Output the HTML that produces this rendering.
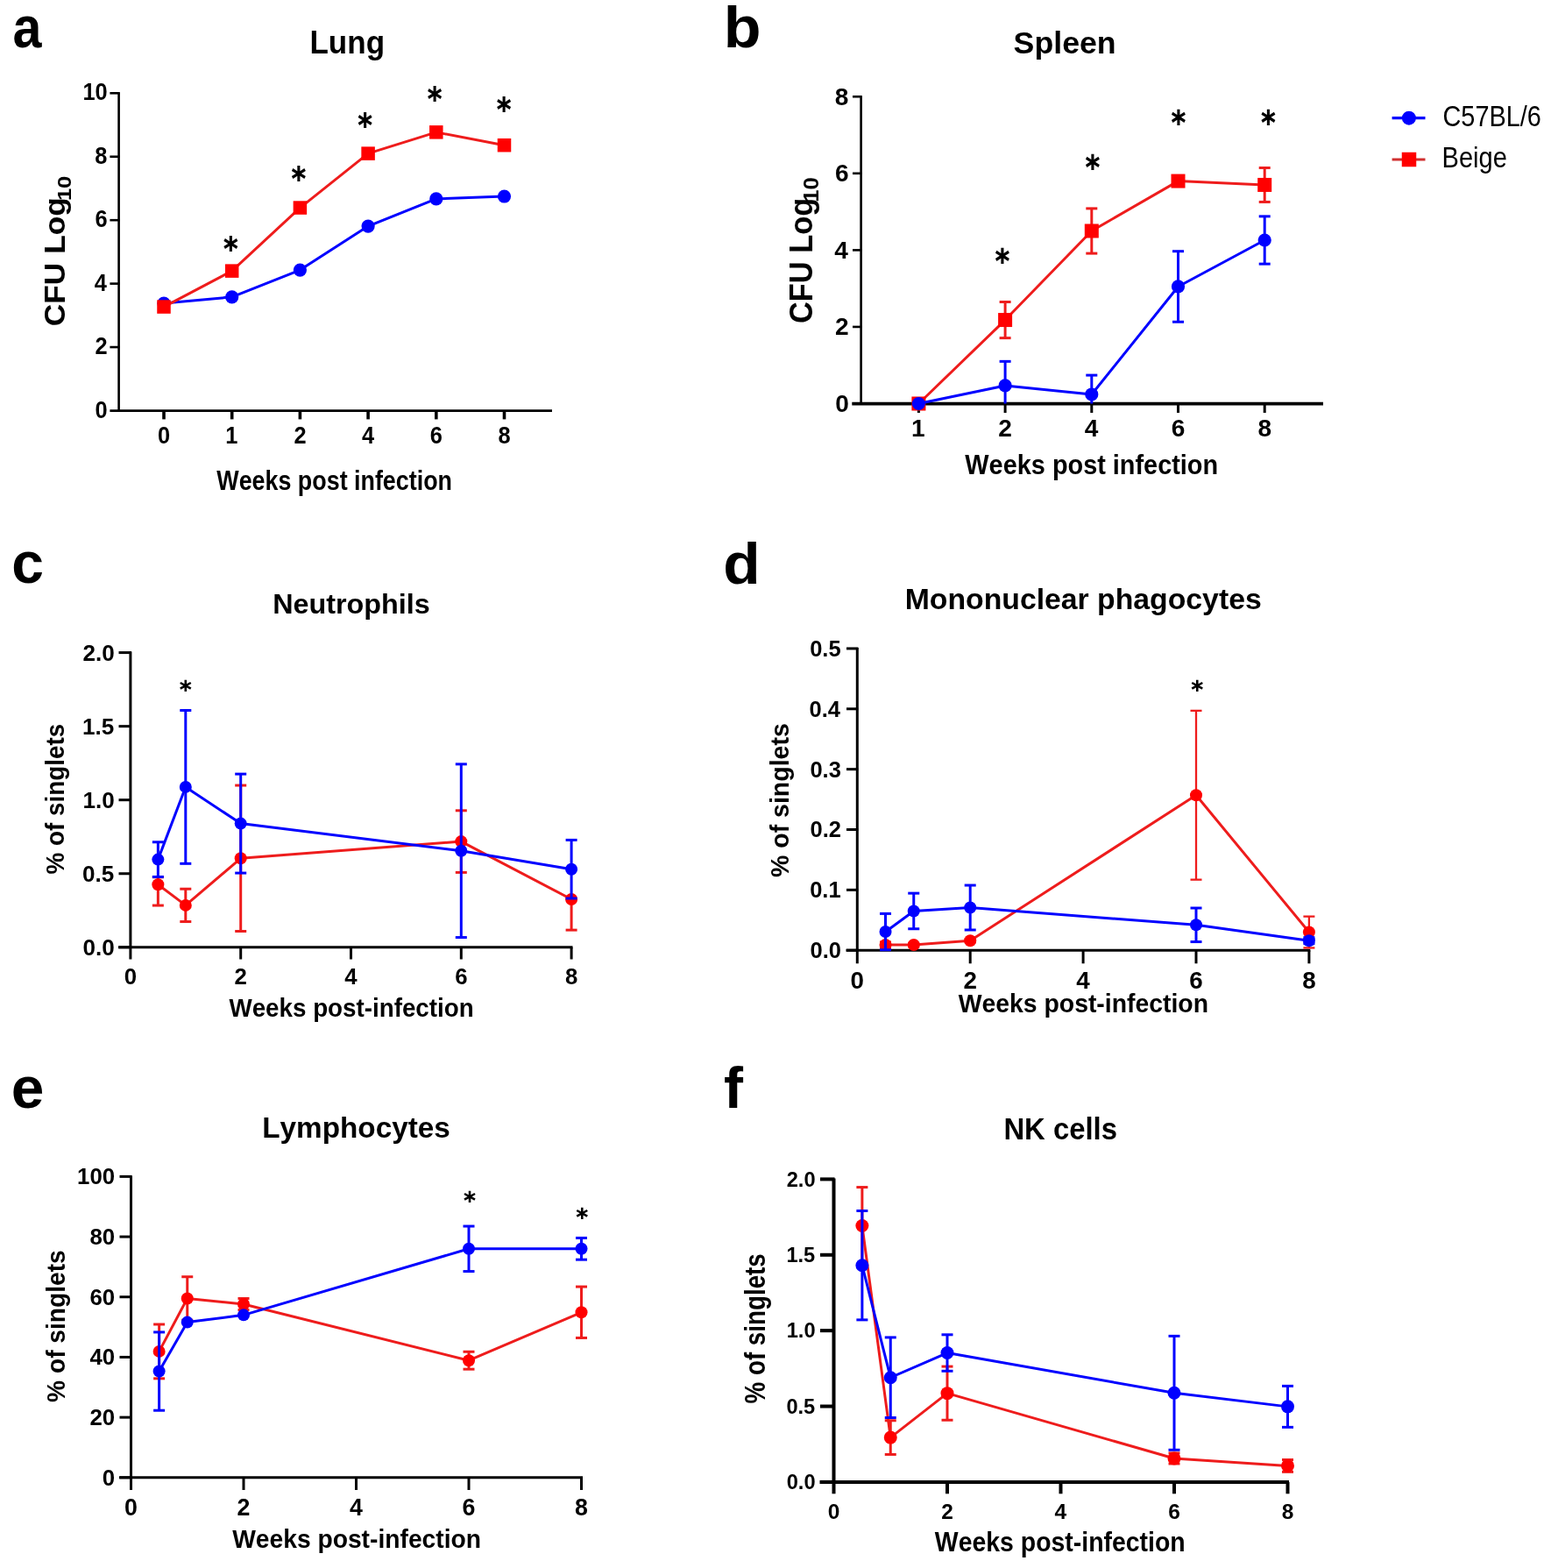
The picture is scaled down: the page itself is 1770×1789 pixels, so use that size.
<!DOCTYPE html>
<html><head><meta charset="utf-8"><title>Figure</title>
<style>
html,body{margin:0;padding:0;background:#fff;}
svg{display:block;}
text{font-kerning:none;}
</style></head><body>
<svg width="1770" height="1789" viewBox="0 0 1770 1789">
<rect width="1770" height="1789" fill="#fff"/>
<text transform="translate(14.56,53.8) scale(0.8979,1.0000)" font-family='"Liberation Sans", sans-serif' font-weight="bold" font-size="66" fill="#000">a</text>
<text transform="translate(825.68,54.4) scale(1.0614,1.0000)" font-family='"Liberation Sans", sans-serif' font-weight="bold" font-size="66" fill="#000">b</text>
<text transform="translate(13.22,665.2) scale(1.0000,1.0000)" font-family='"Liberation Sans", sans-serif' font-weight="bold" font-size="66" fill="#000">c</text>
<text transform="translate(825.25,665.6) scale(1.0524,1.0000)" font-family='"Liberation Sans", sans-serif' font-weight="bold" font-size="66" fill="#000">d</text>
<text transform="translate(12.75,1264.2) scale(1.0260,1.0000)" font-family='"Liberation Sans", sans-serif' font-weight="bold" font-size="66" fill="#000">e</text>
<text transform="translate(825.97,1264) scale(1.0000,1.0000)" font-family='"Liberation Sans", sans-serif' font-weight="bold" font-size="66" fill="#000">f</text>
<line x1="135.6" y1="105.2" x2="135.6" y2="469.7" stroke="#000" stroke-width="2.6" stroke-linecap="butt"/>
<line x1="125.4" y1="468.6" x2="630" y2="468.6" stroke="#000" stroke-width="2.8" stroke-linecap="butt"/>
<line x1="125.4" y1="396.06" x2="136.5" y2="396.06" stroke="#000" stroke-width="2.6" stroke-linecap="butt"/>
<line x1="125.4" y1="323.62" x2="136.5" y2="323.62" stroke="#000" stroke-width="2.6" stroke-linecap="butt"/>
<line x1="125.4" y1="251.18" x2="136.5" y2="251.18" stroke="#000" stroke-width="2.6" stroke-linecap="butt"/>
<line x1="125.4" y1="178.74" x2="136.5" y2="178.74" stroke="#000" stroke-width="2.6" stroke-linecap="butt"/>
<line x1="125.4" y1="106.3" x2="136.5" y2="106.3" stroke="#000" stroke-width="2.6" stroke-linecap="butt"/>
<line x1="187" y1="468.6" x2="187" y2="478.4" stroke="#000" stroke-width="3.6" stroke-linecap="butt"/>
<line x1="264.7" y1="468.6" x2="264.7" y2="478.4" stroke="#000" stroke-width="3.6" stroke-linecap="butt"/>
<line x1="342.4" y1="468.6" x2="342.4" y2="478.4" stroke="#000" stroke-width="3.6" stroke-linecap="butt"/>
<line x1="420.1" y1="468.6" x2="420.1" y2="478.4" stroke="#000" stroke-width="3.6" stroke-linecap="butt"/>
<line x1="497.8" y1="468.6" x2="497.8" y2="478.4" stroke="#000" stroke-width="3.6" stroke-linecap="butt"/>
<line x1="575.5" y1="468.6" x2="575.5" y2="478.4" stroke="#000" stroke-width="3.6" stroke-linecap="butt"/>
<text transform="translate(108.6,476.65) scale(0.9200,1)" font-family='"Liberation Sans", sans-serif' font-weight="bold" font-size="27.64">0</text>
<text transform="translate(108.58,404.21) scale(0.9200,1)" font-family='"Liberation Sans", sans-serif' font-weight="bold" font-size="27.64">2</text>
<text transform="translate(107.69,331.63) scale(0.9200,1)" font-family='"Liberation Sans", sans-serif' font-weight="bold" font-size="27.64">4</text>
<text transform="translate(108.48,259.33) scale(0.9200,1)" font-family='"Liberation Sans", sans-serif' font-weight="bold" font-size="27.64">6</text>
<text transform="translate(108.34,186.89) scale(0.9200,1)" font-family='"Liberation Sans", sans-serif' font-weight="bold" font-size="27.64">8</text>
<text transform="translate(94.46,114.45) scale(0.9200,1)" font-family='"Liberation Sans", sans-serif' font-weight="bold" font-size="27.64">10</text>
<text transform="translate(179.95,506) scale(0.9200,1)" font-family='"Liberation Sans", sans-serif' font-weight="bold" font-size="27.64" fill="#000">0</text>
<text transform="translate(257.18,505.72) scale(0.9200,1)" font-family='"Liberation Sans", sans-serif' font-weight="bold" font-size="27.64" fill="#000">1</text>
<text transform="translate(335.4,506) scale(0.9200,1)" font-family='"Liberation Sans", sans-serif' font-weight="bold" font-size="27.64" fill="#000">2</text>
<text transform="translate(412.9,505.72) scale(0.9200,1)" font-family='"Liberation Sans", sans-serif' font-weight="bold" font-size="27.64" fill="#000">4</text>
<text transform="translate(490.72,506) scale(0.9200,1)" font-family='"Liberation Sans", sans-serif' font-weight="bold" font-size="27.64" fill="#000">6</text>
<text transform="translate(568.42,506) scale(0.9200,1)" font-family='"Liberation Sans", sans-serif' font-weight="bold" font-size="27.64" fill="#000">8</text>
<text transform="translate(353.46,60.8) scale(0.9640,1.0000)" font-family='"Liberation Sans", sans-serif' font-weight="bold" font-size="36.34" fill="#000">Lung</text>
<text transform="translate(247.27,558.9) scale(0.8366,1.0000)" font-family='"Liberation Sans", sans-serif' font-weight="bold" font-size="32.12" fill="#000">Weeks post infection</text>
<text transform="translate(74.4,372.15) rotate(-90) scale(1.0576,1)" font-family='"Liberation Sans", sans-serif' font-weight="bold" font-size="33.37">CFU Log</text>
<text transform="translate(81,229.11) rotate(-90) scale(1.1357,1)" font-family='"Liberation Sans", sans-serif' font-weight="bold" font-size="22.53">10</text>
<polyline points="187,346.08 264.7,338.83 342.4,308.05 420.1,258.06 497.8,226.91 575.5,224.02" fill="none" stroke="#0000ff" stroke-width="3" stroke-linejoin="round"/>
<circle cx="187" cy="346.08" r="7.6" fill="#0000ff"/>
<circle cx="264.7" cy="338.83" r="7.6" fill="#0000ff"/>
<circle cx="342.4" cy="308.05" r="7.6" fill="#0000ff"/>
<circle cx="420.1" cy="258.06" r="7.6" fill="#0000ff"/>
<circle cx="497.8" cy="226.91" r="7.6" fill="#0000ff"/>
<circle cx="575.5" cy="224.02" r="7.6" fill="#0000ff"/>
<polyline points="187,350.06 264.7,309.13 342.4,237.05 420.1,175.12 497.8,150.85 575.5,165.7" fill="none" stroke="#ee1c1c" stroke-width="3" stroke-linejoin="round"/>
<rect x="179.25" y="342.31" width="15.5" height="15.5" fill="#ff0000"/>
<rect x="256.95" y="301.38" width="15.5" height="15.5" fill="#ff0000"/>
<rect x="334.65" y="229.3" width="15.5" height="15.5" fill="#ff0000"/>
<rect x="412.35" y="167.37" width="15.5" height="15.5" fill="#ff0000"/>
<rect x="490.05" y="143.1" width="15.5" height="15.5" fill="#ff0000"/>
<rect x="567.75" y="157.95" width="15.5" height="15.5" fill="#ff0000"/>
<text transform="translate(252.04,287.4) scale(0.9272,1)" font-family='"DejaVu Sans", sans-serif' font-weight="bold" font-size="28.73">∗</text>
<text transform="translate(329.44,207.1) scale(0.9272,1)" font-family='"DejaVu Sans", sans-serif' font-weight="bold" font-size="28.73">∗</text>
<text transform="translate(405.34,146.4) scale(0.9272,1)" font-family='"DejaVu Sans", sans-serif' font-weight="bold" font-size="28.73">∗</text>
<text transform="translate(484.84,115.7) scale(0.9272,1)" font-family='"DejaVu Sans", sans-serif' font-weight="bold" font-size="28.73">∗</text>
<text transform="translate(563.64,128.3) scale(0.9272,1)" font-family='"DejaVu Sans", sans-serif' font-weight="bold" font-size="28.73">∗</text>
<line x1="982.6" y1="109.3" x2="982.6" y2="461.5" stroke="#000" stroke-width="2.6" stroke-linecap="butt"/>
<line x1="972.3" y1="460.6" x2="1510" y2="460.6" stroke="#000" stroke-width="3.6" stroke-linecap="butt"/>
<line x1="973" y1="372.94" x2="983.5" y2="372.94" stroke="#000" stroke-width="2.6" stroke-linecap="butt"/>
<line x1="973" y1="285.38" x2="983.5" y2="285.38" stroke="#000" stroke-width="2.6" stroke-linecap="butt"/>
<line x1="973" y1="197.82" x2="983.5" y2="197.82" stroke="#000" stroke-width="2.6" stroke-linecap="butt"/>
<line x1="973" y1="110.26" x2="983.5" y2="110.26" stroke="#000" stroke-width="2.6" stroke-linecap="butt"/>
<line x1="1048.4" y1="460.6" x2="1048.4" y2="471" stroke="#000" stroke-width="3" stroke-linecap="butt"/>
<line x1="1147.1" y1="460.6" x2="1147.1" y2="471" stroke="#000" stroke-width="3" stroke-linecap="butt"/>
<line x1="1245.8" y1="460.6" x2="1245.8" y2="471" stroke="#000" stroke-width="3" stroke-linecap="butt"/>
<line x1="1344.5" y1="460.6" x2="1344.5" y2="471" stroke="#000" stroke-width="3" stroke-linecap="butt"/>
<line x1="1443.2" y1="460.6" x2="1443.2" y2="471" stroke="#000" stroke-width="3" stroke-linecap="butt"/>
<text transform="translate(953.14,469.9) scale(1.0000,1)" font-family='"Liberation Sans", sans-serif' font-weight="bold" font-size="28.07">0</text>
<text transform="translate(953.11,382.34) scale(1.0000,1)" font-family='"Liberation Sans", sans-serif' font-weight="bold" font-size="28.07">2</text>
<text transform="translate(952.14,294.64) scale(1.0000,1)" font-family='"Liberation Sans", sans-serif' font-weight="bold" font-size="28.07">4</text>
<text transform="translate(953,207.22) scale(1.0000,1)" font-family='"Liberation Sans", sans-serif' font-weight="bold" font-size="28.07">6</text>
<text transform="translate(952.85,119.66) scale(1.0000,1)" font-family='"Liberation Sans", sans-serif' font-weight="bold" font-size="28.07">8</text>
<text transform="translate(1040.1,498.01) scale(1.0000,1)" font-family='"Liberation Sans", sans-serif' font-weight="bold" font-size="28.07" fill="#000">1</text>
<text transform="translate(1139.37,498.3) scale(1.0000,1)" font-family='"Liberation Sans", sans-serif' font-weight="bold" font-size="28.07" fill="#000">2</text>
<text transform="translate(1237.86,498.01) scale(1.0000,1)" font-family='"Liberation Sans", sans-serif' font-weight="bold" font-size="28.07" fill="#000">4</text>
<text transform="translate(1336.69,498.3) scale(1.0000,1)" font-family='"Liberation Sans", sans-serif' font-weight="bold" font-size="28.07" fill="#000">6</text>
<text transform="translate(1435.38,498.3) scale(1.0000,1)" font-family='"Liberation Sans", sans-serif' font-weight="bold" font-size="28.07" fill="#000">8</text>
<text transform="translate(1156.57,60.7) scale(1.0224,1.0000)" font-family='"Liberation Sans", sans-serif' font-weight="bold" font-size="34.94" fill="#000">Spleen</text>
<text transform="translate(1101.37,540.9) scale(0.9078,1.0000)" font-family='"Liberation Sans", sans-serif' font-weight="bold" font-size="31.83" fill="#000">Weeks post infection</text>
<text transform="translate(926.5,369.01) rotate(-90) scale(0.9421,1)" font-family='"Liberation Sans", sans-serif' font-weight="bold" font-size="36.52">CFU Log</text>
<text transform="translate(934.3,230.81) rotate(-90) scale(1.0355,1)" font-family='"Liberation Sans", sans-serif' font-weight="bold" font-size="24.71">10</text>
<line x1="1147.1" y1="344.48" x2="1147.1" y2="365.06" stroke="#ee1c1c" stroke-width="3" stroke-linecap="butt"/>
<line x1="1140.6" y1="344.48" x2="1153.6" y2="344.48" stroke="#ee1c1c" stroke-width="3" stroke-linecap="butt"/>
<line x1="1147.1" y1="365.06" x2="1147.1" y2="385.64" stroke="#ee1c1c" stroke-width="3" stroke-linecap="butt"/>
<line x1="1140.6" y1="385.64" x2="1153.6" y2="385.64" stroke="#ee1c1c" stroke-width="3" stroke-linecap="butt"/>
<line x1="1245.8" y1="237.88" x2="1245.8" y2="263.49" stroke="#ee1c1c" stroke-width="3" stroke-linecap="butt"/>
<line x1="1239.3" y1="237.88" x2="1252.3" y2="237.88" stroke="#ee1c1c" stroke-width="3" stroke-linecap="butt"/>
<line x1="1245.8" y1="263.49" x2="1245.8" y2="289.1" stroke="#ee1c1c" stroke-width="3" stroke-linecap="butt"/>
<line x1="1239.3" y1="289.1" x2="1252.3" y2="289.1" stroke="#ee1c1c" stroke-width="3" stroke-linecap="butt"/>
<line x1="1344.5" y1="202.2" x2="1344.5" y2="206.58" stroke="#ee1c1c" stroke-width="3" stroke-linecap="butt"/>
<line x1="1338" y1="202.2" x2="1351" y2="202.2" stroke="#ee1c1c" stroke-width="3" stroke-linecap="butt"/>
<line x1="1344.5" y1="206.58" x2="1344.5" y2="210.95" stroke="#ee1c1c" stroke-width="3" stroke-linecap="butt"/>
<line x1="1338" y1="210.95" x2="1351" y2="210.95" stroke="#ee1c1c" stroke-width="3" stroke-linecap="butt"/>
<line x1="1443.2" y1="191.47" x2="1443.2" y2="210.95" stroke="#ee1c1c" stroke-width="3" stroke-linecap="butt"/>
<line x1="1436.7" y1="191.47" x2="1449.7" y2="191.47" stroke="#ee1c1c" stroke-width="3" stroke-linecap="butt"/>
<line x1="1443.2" y1="210.95" x2="1443.2" y2="230.44" stroke="#ee1c1c" stroke-width="3" stroke-linecap="butt"/>
<line x1="1436.7" y1="230.44" x2="1449.7" y2="230.44" stroke="#ee1c1c" stroke-width="3" stroke-linecap="butt"/>
<polyline points="1048.4,460.5 1147.1,365.06 1245.8,263.49 1344.5,206.58 1443.2,210.95" fill="none" stroke="#ee1c1c" stroke-width="3" stroke-linejoin="round"/>
<rect x="1040.4" y="452.5" width="16" height="16" fill="#ff0000"/>
<rect x="1139.1" y="357.06" width="16" height="16" fill="#ff0000"/>
<rect x="1237.8" y="255.49" width="16" height="16" fill="#ff0000"/>
<rect x="1336.5" y="198.58" width="16" height="16" fill="#ff0000"/>
<rect x="1435.2" y="202.95" width="16" height="16" fill="#ff0000"/>
<line x1="1147.1" y1="412.34" x2="1147.1" y2="439.92" stroke="#0000ff" stroke-width="3" stroke-linecap="butt"/>
<line x1="1140.6" y1="412.34" x2="1153.6" y2="412.34" stroke="#0000ff" stroke-width="3" stroke-linecap="butt"/>
<line x1="1147.1" y1="439.92" x2="1147.1" y2="460.5" stroke="#0000ff" stroke-width="3" stroke-linecap="butt"/>
<line x1="1245.8" y1="428.1" x2="1245.8" y2="449.99" stroke="#0000ff" stroke-width="3" stroke-linecap="butt"/>
<line x1="1239.3" y1="428.1" x2="1252.3" y2="428.1" stroke="#0000ff" stroke-width="3" stroke-linecap="butt"/>
<line x1="1245.8" y1="449.99" x2="1245.8" y2="460.5" stroke="#0000ff" stroke-width="3" stroke-linecap="butt"/>
<line x1="1344.5" y1="286.69" x2="1344.5" y2="326.97" stroke="#0000ff" stroke-width="3" stroke-linecap="butt"/>
<line x1="1338" y1="286.69" x2="1351" y2="286.69" stroke="#0000ff" stroke-width="3" stroke-linecap="butt"/>
<line x1="1344.5" y1="326.97" x2="1344.5" y2="367.25" stroke="#0000ff" stroke-width="3" stroke-linecap="butt"/>
<line x1="1338" y1="367.25" x2="1351" y2="367.25" stroke="#0000ff" stroke-width="3" stroke-linecap="butt"/>
<line x1="1443.2" y1="246.85" x2="1443.2" y2="274" stroke="#0000ff" stroke-width="3" stroke-linecap="butt"/>
<line x1="1436.7" y1="246.85" x2="1449.7" y2="246.85" stroke="#0000ff" stroke-width="3" stroke-linecap="butt"/>
<line x1="1443.2" y1="274" x2="1443.2" y2="301.14" stroke="#0000ff" stroke-width="3" stroke-linecap="butt"/>
<line x1="1436.7" y1="301.14" x2="1449.7" y2="301.14" stroke="#0000ff" stroke-width="3" stroke-linecap="butt"/>
<polyline points="1048.4,460.5 1147.1,439.92 1245.8,449.99 1344.5,326.97 1443.2,274" fill="none" stroke="#0000ff" stroke-width="3" stroke-linejoin="round"/>
<circle cx="1048.4" cy="460.5" r="7.6" fill="#0000ff"/>
<circle cx="1147.1" cy="439.92" r="7.6" fill="#0000ff"/>
<circle cx="1245.8" cy="449.99" r="7.6" fill="#0000ff"/>
<circle cx="1344.5" cy="326.97" r="7.6" fill="#0000ff"/>
<circle cx="1443.2" cy="274" r="7.6" fill="#0000ff"/>
<text transform="translate(1132.74,301.45) scale(0.9120,1)" font-family='"DejaVu Sans", sans-serif' font-weight="bold" font-size="29.21">∗</text>
<text transform="translate(1235.84,193.85) scale(0.9120,1)" font-family='"DejaVu Sans", sans-serif' font-weight="bold" font-size="29.21">∗</text>
<text transform="translate(1333.84,143.45) scale(0.9120,1)" font-family='"DejaVu Sans", sans-serif' font-weight="bold" font-size="29.21">∗</text>
<text transform="translate(1436.24,143.45) scale(0.9120,1)" font-family='"DejaVu Sans", sans-serif' font-weight="bold" font-size="29.21">∗</text>
<line x1="1588.6" y1="134.7" x2="1626.5" y2="134.7" stroke="#0000ff" stroke-width="3.2" stroke-linecap="butt"/>
<circle cx="1607.9" cy="134.7" r="8" fill="#0000ff"/>
<line x1="1588.6" y1="182" x2="1626.5" y2="182" stroke="#d03030" stroke-width="3.2" stroke-linecap="butt"/>
<rect x="1599.75" y="173.75" width="16.5" height="16.5" fill="#ff0000"/>
<text transform="translate(1646.53,143.5) scale(0.8688,1.0000)" font-family='"Liberation Sans", sans-serif' font-weight="normal" font-size="33.23" fill="#000">C57BL/6</text>
<text transform="translate(1645.62,191) scale(0.8612,1.0000)" font-family='"Liberation Sans", sans-serif' font-weight="normal" font-size="33.72" fill="#000">Beige</text>
<line x1="148.9" y1="743.6" x2="148.9" y2="1081.8" stroke="#000" stroke-width="3" stroke-linecap="butt"/>
<line x1="135" y1="1080.8" x2="653.5" y2="1080.8" stroke="#000" stroke-width="3" stroke-linecap="butt"/>
<line x1="135.5" y1="1080.8" x2="149.9" y2="1080.8" stroke="#000" stroke-width="3" stroke-linecap="butt"/>
<line x1="135.5" y1="996.75" x2="149.9" y2="996.75" stroke="#000" stroke-width="3" stroke-linecap="butt"/>
<line x1="135.5" y1="912.7" x2="149.9" y2="912.7" stroke="#000" stroke-width="3" stroke-linecap="butt"/>
<line x1="135.5" y1="828.65" x2="149.9" y2="828.65" stroke="#000" stroke-width="3" stroke-linecap="butt"/>
<line x1="135.5" y1="744.6" x2="149.9" y2="744.6" stroke="#000" stroke-width="3" stroke-linecap="butt"/>
<line x1="148.9" y1="1080.8" x2="148.9" y2="1094.5" stroke="#000" stroke-width="3" stroke-linecap="butt"/>
<line x1="274.7" y1="1080.8" x2="274.7" y2="1094.5" stroke="#000" stroke-width="3" stroke-linecap="butt"/>
<line x1="400.5" y1="1080.8" x2="400.5" y2="1094.5" stroke="#000" stroke-width="3" stroke-linecap="butt"/>
<line x1="526.3" y1="1080.8" x2="526.3" y2="1094.5" stroke="#000" stroke-width="3" stroke-linecap="butt"/>
<line x1="652.1" y1="1080.8" x2="652.1" y2="1094.5" stroke="#000" stroke-width="3" stroke-linecap="butt"/>
<text transform="translate(94.43,1089.9) scale(1.0000,1)" font-family='"Liberation Sans", sans-serif' font-weight="bold" font-size="26.07">0.0</text>
<text transform="translate(94.09,1005.85) scale(1.0000,1)" font-family='"Liberation Sans", sans-serif' font-weight="bold" font-size="26.07">0.5</text>
<text transform="translate(94.43,921.8) scale(1.0000,1)" font-family='"Liberation Sans", sans-serif' font-weight="bold" font-size="26.07">1.0</text>
<text transform="translate(94.09,837.62) scale(1.0000,1)" font-family='"Liberation Sans", sans-serif' font-weight="bold" font-size="26.07">1.5</text>
<text transform="translate(94.43,753.7) scale(1.0000,1)" font-family='"Liberation Sans", sans-serif' font-weight="bold" font-size="26.07">2.0</text>
<text transform="translate(141.75,1122.8) scale(1.0000,1)" font-family='"Liberation Sans", sans-serif' font-weight="bold" font-size="25.78" fill="#000">0</text>
<text transform="translate(267.6,1122.8) scale(1.0000,1)" font-family='"Liberation Sans", sans-serif' font-weight="bold" font-size="25.78" fill="#000">2</text>
<text transform="translate(393.21,1122.54) scale(1.0000,1)" font-family='"Liberation Sans", sans-serif' font-weight="bold" font-size="25.78" fill="#000">4</text>
<text transform="translate(519.13,1122.8) scale(1.0000,1)" font-family='"Liberation Sans", sans-serif' font-weight="bold" font-size="25.78" fill="#000">6</text>
<text transform="translate(644.92,1122.8) scale(1.0000,1)" font-family='"Liberation Sans", sans-serif' font-weight="bold" font-size="25.78" fill="#000">8</text>
<text transform="translate(311.14,700) scale(1.0260,1.0000)" font-family='"Liberation Sans", sans-serif' font-weight="bold" font-size="31.54" fill="#000">Neutrophils</text>
<text transform="translate(261.47,1159.7) scale(0.9185,1.0000)" font-family='"Liberation Sans", sans-serif' font-weight="bold" font-size="30.23" fill="#000">Weeks post-infection</text>
<text transform="translate(73,997.49) rotate(-90) scale(0.9478,1)" font-family='"Liberation Sans", sans-serif' font-weight="bold" font-size="29.4">% of singlets</text>
<line x1="180.35" y1="1000.78" x2="180.35" y2="1009.19" stroke="#ee1c1c" stroke-width="3" stroke-linecap="butt"/>
<line x1="173.85" y1="1000.78" x2="186.85" y2="1000.78" stroke="#ee1c1c" stroke-width="3" stroke-linecap="butt"/>
<line x1="180.35" y1="1009.19" x2="180.35" y2="1033.06" stroke="#ee1c1c" stroke-width="3" stroke-linecap="butt"/>
<line x1="173.85" y1="1033.06" x2="186.85" y2="1033.06" stroke="#ee1c1c" stroke-width="3" stroke-linecap="butt"/>
<line x1="211.8" y1="1014.23" x2="211.8" y2="1032.89" stroke="#ee1c1c" stroke-width="3" stroke-linecap="butt"/>
<line x1="205.3" y1="1014.23" x2="218.3" y2="1014.23" stroke="#ee1c1c" stroke-width="3" stroke-linecap="butt"/>
<line x1="211.8" y1="1032.89" x2="211.8" y2="1051.55" stroke="#ee1c1c" stroke-width="3" stroke-linecap="butt"/>
<line x1="205.3" y1="1051.55" x2="218.3" y2="1051.55" stroke="#ee1c1c" stroke-width="3" stroke-linecap="butt"/>
<line x1="274.7" y1="896.06" x2="274.7" y2="979.27" stroke="#ee1c1c" stroke-width="3" stroke-linecap="butt"/>
<line x1="268.2" y1="896.06" x2="281.2" y2="896.06" stroke="#ee1c1c" stroke-width="3" stroke-linecap="butt"/>
<line x1="274.7" y1="979.27" x2="274.7" y2="1062.48" stroke="#ee1c1c" stroke-width="3" stroke-linecap="butt"/>
<line x1="268.2" y1="1062.48" x2="281.2" y2="1062.48" stroke="#ee1c1c" stroke-width="3" stroke-linecap="butt"/>
<line x1="526.3" y1="924.8" x2="526.3" y2="960.1" stroke="#ee1c1c" stroke-width="3" stroke-linecap="butt"/>
<line x1="519.8" y1="924.8" x2="532.8" y2="924.8" stroke="#ee1c1c" stroke-width="3" stroke-linecap="butt"/>
<line x1="526.3" y1="960.1" x2="526.3" y2="995.41" stroke="#ee1c1c" stroke-width="3" stroke-linecap="butt"/>
<line x1="519.8" y1="995.41" x2="532.8" y2="995.41" stroke="#ee1c1c" stroke-width="3" stroke-linecap="butt"/>
<line x1="652.1" y1="1026" x2="652.1" y2="1026" stroke="#ee1c1c" stroke-width="3" stroke-linecap="butt"/>
<line x1="645.6" y1="1026" x2="658.6" y2="1026" stroke="#ee1c1c" stroke-width="3" stroke-linecap="butt"/>
<line x1="652.1" y1="1026" x2="652.1" y2="1061.13" stroke="#ee1c1c" stroke-width="3" stroke-linecap="butt"/>
<line x1="645.6" y1="1061.13" x2="658.6" y2="1061.13" stroke="#ee1c1c" stroke-width="3" stroke-linecap="butt"/>
<polyline points="180.35,1009.19 211.8,1032.89 274.7,979.27 526.3,960.1 652.1,1026" fill="none" stroke="#ee1c1c" stroke-width="3" stroke-linejoin="round"/>
<circle cx="180.35" cy="1009.19" r="7" fill="#ff0000"/>
<circle cx="211.8" cy="1032.89" r="7" fill="#ff0000"/>
<circle cx="274.7" cy="979.27" r="7" fill="#ff0000"/>
<circle cx="526.3" cy="960.1" r="7" fill="#ff0000"/>
<circle cx="652.1" cy="1026" r="7" fill="#ff0000"/>
<line x1="180.35" y1="960.78" x2="180.35" y2="980.61" stroke="#0000ff" stroke-width="3" stroke-linecap="butt"/>
<line x1="173.85" y1="960.78" x2="186.85" y2="960.78" stroke="#0000ff" stroke-width="3" stroke-linecap="butt"/>
<line x1="180.35" y1="980.61" x2="180.35" y2="1000.45" stroke="#0000ff" stroke-width="3" stroke-linecap="butt"/>
<line x1="173.85" y1="1000.45" x2="186.85" y2="1000.45" stroke="#0000ff" stroke-width="3" stroke-linecap="butt"/>
<line x1="211.8" y1="810.5" x2="211.8" y2="897.91" stroke="#0000ff" stroke-width="3" stroke-linecap="butt"/>
<line x1="205.3" y1="810.5" x2="218.3" y2="810.5" stroke="#0000ff" stroke-width="3" stroke-linecap="butt"/>
<line x1="211.8" y1="897.91" x2="211.8" y2="985.32" stroke="#0000ff" stroke-width="3" stroke-linecap="butt"/>
<line x1="205.3" y1="985.32" x2="218.3" y2="985.32" stroke="#0000ff" stroke-width="3" stroke-linecap="butt"/>
<line x1="274.7" y1="883.11" x2="274.7" y2="939.6" stroke="#0000ff" stroke-width="3" stroke-linecap="butt"/>
<line x1="268.2" y1="883.11" x2="281.2" y2="883.11" stroke="#0000ff" stroke-width="3" stroke-linecap="butt"/>
<line x1="274.7" y1="939.6" x2="274.7" y2="996.08" stroke="#0000ff" stroke-width="3" stroke-linecap="butt"/>
<line x1="268.2" y1="996.08" x2="281.2" y2="996.08" stroke="#0000ff" stroke-width="3" stroke-linecap="butt"/>
<line x1="526.3" y1="871.85" x2="526.3" y2="970.69" stroke="#0000ff" stroke-width="3" stroke-linecap="butt"/>
<line x1="519.8" y1="871.85" x2="532.8" y2="871.85" stroke="#0000ff" stroke-width="3" stroke-linecap="butt"/>
<line x1="526.3" y1="970.69" x2="526.3" y2="1069.54" stroke="#0000ff" stroke-width="3" stroke-linecap="butt"/>
<line x1="519.8" y1="1069.54" x2="532.8" y2="1069.54" stroke="#0000ff" stroke-width="3" stroke-linecap="butt"/>
<line x1="652.1" y1="958.42" x2="652.1" y2="991.71" stroke="#0000ff" stroke-width="3" stroke-linecap="butt"/>
<line x1="645.6" y1="958.42" x2="658.6" y2="958.42" stroke="#0000ff" stroke-width="3" stroke-linecap="butt"/>
<line x1="652.1" y1="991.71" x2="652.1" y2="1024.99" stroke="#0000ff" stroke-width="3" stroke-linecap="butt"/>
<line x1="645.6" y1="1024.99" x2="658.6" y2="1024.99" stroke="#0000ff" stroke-width="3" stroke-linecap="butt"/>
<polyline points="180.35,980.61 211.8,897.91 274.7,939.6 526.3,970.69 652.1,991.71" fill="none" stroke="#0000ff" stroke-width="3" stroke-linejoin="round"/>
<circle cx="180.35" cy="980.61" r="7" fill="#0000ff"/>
<circle cx="211.8" cy="897.91" r="7" fill="#0000ff"/>
<circle cx="274.7" cy="939.6" r="7" fill="#0000ff"/>
<circle cx="526.3" cy="970.69" r="7" fill="#0000ff"/>
<circle cx="652.1" cy="991.71" r="7" fill="#0000ff"/>
<text transform="translate(202.42,789.15) scale(1.0431,1)" font-family='"DejaVu Sans", sans-serif' font-weight="bold" font-size="21.23">∗</text>
<line x1="978.3" y1="738.9" x2="978.3" y2="1085.2" stroke="#000" stroke-width="3" stroke-linecap="butt"/>
<line x1="965.5" y1="1084.2" x2="1495.3" y2="1084.2" stroke="#000" stroke-width="3" stroke-linecap="butt"/>
<line x1="966" y1="1084.2" x2="979.3" y2="1084.2" stroke="#000" stroke-width="3" stroke-linecap="butt"/>
<line x1="966" y1="1015.35" x2="979.3" y2="1015.35" stroke="#000" stroke-width="3" stroke-linecap="butt"/>
<line x1="966" y1="946.5" x2="979.3" y2="946.5" stroke="#000" stroke-width="3" stroke-linecap="butt"/>
<line x1="966" y1="877.65" x2="979.3" y2="877.65" stroke="#000" stroke-width="3" stroke-linecap="butt"/>
<line x1="966" y1="808.8" x2="979.3" y2="808.8" stroke="#000" stroke-width="3" stroke-linecap="butt"/>
<line x1="966" y1="739.95" x2="979.3" y2="739.95" stroke="#000" stroke-width="3" stroke-linecap="butt"/>
<line x1="978.3" y1="1084.2" x2="978.3" y2="1099.3" stroke="#000" stroke-width="3" stroke-linecap="butt"/>
<line x1="1107.2" y1="1084.2" x2="1107.2" y2="1099.3" stroke="#000" stroke-width="3" stroke-linecap="butt"/>
<line x1="1236.1" y1="1084.2" x2="1236.1" y2="1099.3" stroke="#000" stroke-width="3" stroke-linecap="butt"/>
<line x1="1365" y1="1084.2" x2="1365" y2="1099.3" stroke="#000" stroke-width="3" stroke-linecap="butt"/>
<line x1="1493.9" y1="1084.2" x2="1493.9" y2="1099.3" stroke="#000" stroke-width="3" stroke-linecap="butt"/>
<text transform="translate(924.51,1093.1) scale(1.0000,1)" font-family='"Liberation Sans", sans-serif' font-weight="bold" font-size="25.49">0.0</text>
<text transform="translate(924.17,1024.25) scale(1.0000,1)" font-family='"Liberation Sans", sans-serif' font-weight="bold" font-size="25.49">0.1</text>
<text transform="translate(924.48,955.4) scale(1.0000,1)" font-family='"Liberation Sans", sans-serif' font-weight="bold" font-size="25.49">0.2</text>
<text transform="translate(924.38,886.55) scale(1.0000,1)" font-family='"Liberation Sans", sans-serif' font-weight="bold" font-size="25.49">0.3</text>
<text transform="translate(923.6,817.7) scale(1.0000,1)" font-family='"Liberation Sans", sans-serif' font-weight="bold" font-size="25.49">0.4</text>
<text transform="translate(924.17,748.85) scale(1.0000,1)" font-family='"Liberation Sans", sans-serif' font-weight="bold" font-size="25.49">0.5</text>
<text transform="translate(970.59,1128.2) scale(1.0000,1)" font-family='"Liberation Sans", sans-serif' font-weight="bold" font-size="27.78" fill="#000">0</text>
<text transform="translate(1099.55,1128.2) scale(1.0000,1)" font-family='"Liberation Sans", sans-serif' font-weight="bold" font-size="27.78" fill="#000">2</text>
<text transform="translate(1228.24,1127.92) scale(1.0000,1)" font-family='"Liberation Sans", sans-serif' font-weight="bold" font-size="27.78" fill="#000">4</text>
<text transform="translate(1357.27,1128.2) scale(1.0000,1)" font-family='"Liberation Sans", sans-serif' font-weight="bold" font-size="27.78" fill="#000">6</text>
<text transform="translate(1486.16,1128.2) scale(1.0000,1)" font-family='"Liberation Sans", sans-serif' font-weight="bold" font-size="27.78" fill="#000">8</text>
<text transform="translate(1032.74,695.1) scale(1.0277,1.0000)" font-family='"Liberation Sans", sans-serif' font-weight="bold" font-size="32.85" fill="#000">Mononuclear phagocytes</text>
<text transform="translate(1093.77,1154.9) scale(0.9342,1.0000)" font-family='"Liberation Sans", sans-serif' font-weight="bold" font-size="30.38" fill="#000">Weeks post-infection</text>
<text transform="translate(899.6,1000.91) rotate(-90) scale(0.9512,1)" font-family='"Liberation Sans", sans-serif' font-weight="bold" font-size="29.95">% of singlets</text>
<line x1="1010.52" y1="1074.56" x2="1010.52" y2="1078" stroke="#ee1c1c" stroke-width="2.3" stroke-linecap="butt"/>
<line x1="1004.02" y1="1074.56" x2="1017.02" y2="1074.56" stroke="#ee1c1c" stroke-width="2.3" stroke-linecap="butt"/>
<line x1="1010.52" y1="1078" x2="1010.52" y2="1081.45" stroke="#ee1c1c" stroke-width="2.3" stroke-linecap="butt"/>
<line x1="1004.02" y1="1081.45" x2="1017.02" y2="1081.45" stroke="#ee1c1c" stroke-width="2.3" stroke-linecap="butt"/>
<line x1="1042.75" y1="1075.94" x2="1042.75" y2="1078" stroke="#ee1c1c" stroke-width="2.3" stroke-linecap="butt"/>
<line x1="1036.25" y1="1075.94" x2="1049.25" y2="1075.94" stroke="#ee1c1c" stroke-width="2.3" stroke-linecap="butt"/>
<line x1="1042.75" y1="1078" x2="1042.75" y2="1080.07" stroke="#ee1c1c" stroke-width="2.3" stroke-linecap="butt"/>
<line x1="1036.25" y1="1080.07" x2="1049.25" y2="1080.07" stroke="#ee1c1c" stroke-width="2.3" stroke-linecap="butt"/>
<line x1="1107.2" y1="1071.12" x2="1107.2" y2="1073.18" stroke="#ee1c1c" stroke-width="2.3" stroke-linecap="butt"/>
<line x1="1100.7" y1="1071.12" x2="1113.7" y2="1071.12" stroke="#ee1c1c" stroke-width="2.3" stroke-linecap="butt"/>
<line x1="1107.2" y1="1073.18" x2="1107.2" y2="1075.25" stroke="#ee1c1c" stroke-width="2.3" stroke-linecap="butt"/>
<line x1="1100.7" y1="1075.25" x2="1113.7" y2="1075.25" stroke="#ee1c1c" stroke-width="2.3" stroke-linecap="butt"/>
<line x1="1365" y1="810.87" x2="1365" y2="907.26" stroke="#ee1c1c" stroke-width="2.3" stroke-linecap="butt"/>
<line x1="1358.5" y1="810.87" x2="1371.5" y2="810.87" stroke="#ee1c1c" stroke-width="2.3" stroke-linecap="butt"/>
<line x1="1365" y1="907.26" x2="1365" y2="1003.65" stroke="#ee1c1c" stroke-width="2.3" stroke-linecap="butt"/>
<line x1="1358.5" y1="1003.65" x2="1371.5" y2="1003.65" stroke="#ee1c1c" stroke-width="2.3" stroke-linecap="butt"/>
<line x1="1493.9" y1="1045.64" x2="1493.9" y2="1063.55" stroke="#ee1c1c" stroke-width="2.3" stroke-linecap="butt"/>
<line x1="1487.4" y1="1045.64" x2="1500.4" y2="1045.64" stroke="#ee1c1c" stroke-width="2.3" stroke-linecap="butt"/>
<line x1="1493.9" y1="1063.55" x2="1493.9" y2="1081.45" stroke="#ee1c1c" stroke-width="2.3" stroke-linecap="butt"/>
<line x1="1487.4" y1="1081.45" x2="1500.4" y2="1081.45" stroke="#ee1c1c" stroke-width="2.3" stroke-linecap="butt"/>
<polyline points="1010.52,1078 1042.75,1078 1107.2,1073.18 1365,907.26 1493.9,1063.55" fill="none" stroke="#ee1c1c" stroke-width="3" stroke-linejoin="round"/>
<circle cx="1010.52" cy="1078" r="7" fill="#ff0000"/>
<circle cx="1042.75" cy="1078" r="7" fill="#ff0000"/>
<circle cx="1107.2" cy="1073.18" r="7" fill="#ff0000"/>
<circle cx="1365" cy="907.26" r="7" fill="#ff0000"/>
<circle cx="1493.9" cy="1063.55" r="7" fill="#ff0000"/>
<line x1="1010.52" y1="1042.41" x2="1010.52" y2="1063.06" stroke="#0000ff" stroke-width="3" stroke-linecap="butt"/>
<line x1="1004.02" y1="1042.41" x2="1017.02" y2="1042.41" stroke="#0000ff" stroke-width="3" stroke-linecap="butt"/>
<line x1="1010.52" y1="1063.06" x2="1010.52" y2="1083.72" stroke="#0000ff" stroke-width="3" stroke-linecap="butt"/>
<line x1="1004.02" y1="1083.72" x2="1017.02" y2="1083.72" stroke="#0000ff" stroke-width="3" stroke-linecap="butt"/>
<line x1="1042.75" y1="1019.14" x2="1042.75" y2="1039.45" stroke="#0000ff" stroke-width="3" stroke-linecap="butt"/>
<line x1="1036.25" y1="1019.14" x2="1049.25" y2="1019.14" stroke="#0000ff" stroke-width="3" stroke-linecap="butt"/>
<line x1="1042.75" y1="1039.45" x2="1042.75" y2="1059.76" stroke="#0000ff" stroke-width="3" stroke-linecap="butt"/>
<line x1="1036.25" y1="1059.76" x2="1049.25" y2="1059.76" stroke="#0000ff" stroke-width="3" stroke-linecap="butt"/>
<line x1="1107.2" y1="1010.05" x2="1107.2" y2="1035.52" stroke="#0000ff" stroke-width="3" stroke-linecap="butt"/>
<line x1="1100.7" y1="1010.05" x2="1113.7" y2="1010.05" stroke="#0000ff" stroke-width="3" stroke-linecap="butt"/>
<line x1="1107.2" y1="1035.52" x2="1107.2" y2="1061" stroke="#0000ff" stroke-width="3" stroke-linecap="butt"/>
<line x1="1100.7" y1="1061" x2="1113.7" y2="1061" stroke="#0000ff" stroke-width="3" stroke-linecap="butt"/>
<line x1="1365" y1="1036.01" x2="1365" y2="1055.28" stroke="#0000ff" stroke-width="3" stroke-linecap="butt"/>
<line x1="1358.5" y1="1036.01" x2="1371.5" y2="1036.01" stroke="#0000ff" stroke-width="3" stroke-linecap="butt"/>
<line x1="1365" y1="1055.28" x2="1365" y2="1074.56" stroke="#0000ff" stroke-width="3" stroke-linecap="butt"/>
<line x1="1358.5" y1="1074.56" x2="1371.5" y2="1074.56" stroke="#0000ff" stroke-width="3" stroke-linecap="butt"/>
<line x1="1493.9" y1="1069.74" x2="1493.9" y2="1073.18" stroke="#0000ff" stroke-width="3" stroke-linecap="butt"/>
<line x1="1487.4" y1="1069.74" x2="1500.4" y2="1069.74" stroke="#0000ff" stroke-width="3" stroke-linecap="butt"/>
<line x1="1493.9" y1="1073.18" x2="1493.9" y2="1076.63" stroke="#0000ff" stroke-width="3" stroke-linecap="butt"/>
<line x1="1487.4" y1="1076.63" x2="1500.4" y2="1076.63" stroke="#0000ff" stroke-width="3" stroke-linecap="butt"/>
<polyline points="1010.52,1063.06 1042.75,1039.45 1107.2,1035.52 1365,1055.28 1493.9,1073.18" fill="none" stroke="#0000ff" stroke-width="3" stroke-linejoin="round"/>
<circle cx="1010.52" cy="1063.06" r="7" fill="#0000ff"/>
<circle cx="1042.75" cy="1039.45" r="7" fill="#0000ff"/>
<circle cx="1107.2" cy="1035.52" r="7" fill="#0000ff"/>
<circle cx="1365" cy="1055.28" r="7" fill="#0000ff"/>
<circle cx="1493.9" cy="1073.18" r="7" fill="#0000ff"/>
<text transform="translate(1357.02,789.25) scale(1.0431,1)" font-family='"DejaVu Sans", sans-serif' font-weight="bold" font-size="21.23">∗</text>
<line x1="149.5" y1="1341.4" x2="149.5" y2="1686.8" stroke="#000" stroke-width="3" stroke-linecap="butt"/>
<line x1="136" y1="1685.8" x2="665" y2="1685.8" stroke="#000" stroke-width="3" stroke-linecap="butt"/>
<line x1="136.5" y1="1685.8" x2="150.5" y2="1685.8" stroke="#000" stroke-width="3" stroke-linecap="butt"/>
<line x1="136.5" y1="1617.12" x2="150.5" y2="1617.12" stroke="#000" stroke-width="3" stroke-linecap="butt"/>
<line x1="136.5" y1="1548.43" x2="150.5" y2="1548.43" stroke="#000" stroke-width="3" stroke-linecap="butt"/>
<line x1="136.5" y1="1479.75" x2="150.5" y2="1479.75" stroke="#000" stroke-width="3" stroke-linecap="butt"/>
<line x1="136.5" y1="1411.06" x2="150.5" y2="1411.06" stroke="#000" stroke-width="3" stroke-linecap="butt"/>
<line x1="136.5" y1="1342.38" x2="150.5" y2="1342.38" stroke="#000" stroke-width="3" stroke-linecap="butt"/>
<line x1="149.5" y1="1685.8" x2="149.5" y2="1700" stroke="#000" stroke-width="3" stroke-linecap="butt"/>
<line x1="278" y1="1685.8" x2="278" y2="1700" stroke="#000" stroke-width="3" stroke-linecap="butt"/>
<line x1="406.5" y1="1685.8" x2="406.5" y2="1700" stroke="#000" stroke-width="3" stroke-linecap="butt"/>
<line x1="535" y1="1685.8" x2="535" y2="1700" stroke="#000" stroke-width="3" stroke-linecap="butt"/>
<line x1="663.5" y1="1685.8" x2="663.5" y2="1700" stroke="#000" stroke-width="3" stroke-linecap="butt"/>
<text transform="translate(116.72,1694.8) scale(1.0000,1)" font-family='"Liberation Sans", sans-serif' font-weight="bold" font-size="25.78">0</text>
<text transform="translate(102.38,1626.12) scale(1.0000,1)" font-family='"Liberation Sans", sans-serif' font-weight="bold" font-size="25.78">20</text>
<text transform="translate(102.38,1557.43) scale(1.0000,1)" font-family='"Liberation Sans", sans-serif' font-weight="bold" font-size="25.78">40</text>
<text transform="translate(102.38,1488.75) scale(1.0000,1)" font-family='"Liberation Sans", sans-serif' font-weight="bold" font-size="25.78">60</text>
<text transform="translate(102.38,1420.06) scale(1.0000,1)" font-family='"Liberation Sans", sans-serif' font-weight="bold" font-size="25.78">80</text>
<text transform="translate(88.05,1351.38) scale(1.0000,1)" font-family='"Liberation Sans", sans-serif' font-weight="bold" font-size="25.78">100</text>
<text transform="translate(142.07,1729.2) scale(1.0000,1)" font-family='"Liberation Sans", sans-serif' font-weight="bold" font-size="26.78" fill="#000">0</text>
<text transform="translate(270.62,1729.2) scale(1.0000,1)" font-family='"Liberation Sans", sans-serif' font-weight="bold" font-size="26.78" fill="#000">2</text>
<text transform="translate(398.92,1728.93) scale(1.0000,1)" font-family='"Liberation Sans", sans-serif' font-weight="bold" font-size="26.78" fill="#000">4</text>
<text transform="translate(527.55,1729.2) scale(1.0000,1)" font-family='"Liberation Sans", sans-serif' font-weight="bold" font-size="26.78" fill="#000">6</text>
<text transform="translate(656.04,1729.2) scale(1.0000,1)" font-family='"Liberation Sans", sans-serif' font-weight="bold" font-size="26.78" fill="#000">8</text>
<text transform="translate(299.27,1297.5) scale(0.9953,1.0000)" font-family='"Liberation Sans", sans-serif' font-weight="bold" font-size="33.43" fill="#000">Lymphocytes</text>
<text transform="translate(265.17,1765.8) scale(0.9714,1.0000)" font-family='"Liberation Sans", sans-serif' font-weight="bold" font-size="29.07" fill="#000">Weeks post-infection</text>
<text transform="translate(74,1599.9) rotate(-90) scale(0.9721,1)" font-family='"Liberation Sans", sans-serif' font-weight="bold" font-size="28.98">% of singlets</text>
<line x1="181.62" y1="1511" x2="181.62" y2="1541.91" stroke="#ee1c1c" stroke-width="3" stroke-linecap="butt"/>
<line x1="175.12" y1="1511" x2="188.12" y2="1511" stroke="#ee1c1c" stroke-width="3" stroke-linecap="butt"/>
<line x1="181.62" y1="1541.91" x2="181.62" y2="1572.81" stroke="#ee1c1c" stroke-width="3" stroke-linecap="butt"/>
<line x1="175.12" y1="1572.81" x2="188.12" y2="1572.81" stroke="#ee1c1c" stroke-width="3" stroke-linecap="butt"/>
<line x1="213.75" y1="1456.74" x2="213.75" y2="1481.47" stroke="#ee1c1c" stroke-width="3" stroke-linecap="butt"/>
<line x1="207.25" y1="1456.74" x2="220.25" y2="1456.74" stroke="#ee1c1c" stroke-width="3" stroke-linecap="butt"/>
<line x1="213.75" y1="1481.47" x2="213.75" y2="1506.19" stroke="#ee1c1c" stroke-width="3" stroke-linecap="butt"/>
<line x1="207.25" y1="1506.19" x2="220.25" y2="1506.19" stroke="#ee1c1c" stroke-width="3" stroke-linecap="butt"/>
<line x1="278" y1="1481.47" x2="278" y2="1487.99" stroke="#ee1c1c" stroke-width="3" stroke-linecap="butt"/>
<line x1="271.5" y1="1481.47" x2="284.5" y2="1481.47" stroke="#ee1c1c" stroke-width="3" stroke-linecap="butt"/>
<line x1="278" y1="1487.99" x2="278" y2="1494.52" stroke="#ee1c1c" stroke-width="3" stroke-linecap="butt"/>
<line x1="271.5" y1="1494.52" x2="284.5" y2="1494.52" stroke="#ee1c1c" stroke-width="3" stroke-linecap="butt"/>
<line x1="535" y1="1542.25" x2="535" y2="1552.21" stroke="#ee1c1c" stroke-width="3" stroke-linecap="butt"/>
<line x1="528.5" y1="1542.25" x2="541.5" y2="1542.25" stroke="#ee1c1c" stroke-width="3" stroke-linecap="butt"/>
<line x1="535" y1="1552.21" x2="535" y2="1562.17" stroke="#ee1c1c" stroke-width="3" stroke-linecap="butt"/>
<line x1="528.5" y1="1562.17" x2="541.5" y2="1562.17" stroke="#ee1c1c" stroke-width="3" stroke-linecap="butt"/>
<line x1="663.5" y1="1468.07" x2="663.5" y2="1497.26" stroke="#ee1c1c" stroke-width="3" stroke-linecap="butt"/>
<line x1="657" y1="1468.07" x2="670" y2="1468.07" stroke="#ee1c1c" stroke-width="3" stroke-linecap="butt"/>
<line x1="663.5" y1="1497.26" x2="663.5" y2="1526.45" stroke="#ee1c1c" stroke-width="3" stroke-linecap="butt"/>
<line x1="657" y1="1526.45" x2="670" y2="1526.45" stroke="#ee1c1c" stroke-width="3" stroke-linecap="butt"/>
<polyline points="181.62,1541.91 213.75,1481.47 278,1487.99 535,1552.21 663.5,1497.26" fill="none" stroke="#ee1c1c" stroke-width="3" stroke-linejoin="round"/>
<circle cx="181.62" cy="1541.91" r="7" fill="#ff0000"/>
<circle cx="213.75" cy="1481.47" r="7" fill="#ff0000"/>
<circle cx="278" cy="1487.99" r="7" fill="#ff0000"/>
<circle cx="535" cy="1552.21" r="7" fill="#ff0000"/>
<circle cx="663.5" cy="1497.26" r="7" fill="#ff0000"/>
<line x1="181.62" y1="1519.93" x2="181.62" y2="1564.57" stroke="#0000ff" stroke-width="3" stroke-linecap="butt"/>
<line x1="175.12" y1="1519.93" x2="188.12" y2="1519.93" stroke="#0000ff" stroke-width="3" stroke-linecap="butt"/>
<line x1="181.62" y1="1564.57" x2="181.62" y2="1609.22" stroke="#0000ff" stroke-width="3" stroke-linecap="butt"/>
<line x1="175.12" y1="1609.22" x2="188.12" y2="1609.22" stroke="#0000ff" stroke-width="3" stroke-linecap="butt"/>
<line x1="535" y1="1399.04" x2="535" y2="1424.8" stroke="#0000ff" stroke-width="3" stroke-linecap="butt"/>
<line x1="528.5" y1="1399.04" x2="541.5" y2="1399.04" stroke="#0000ff" stroke-width="3" stroke-linecap="butt"/>
<line x1="535" y1="1424.8" x2="535" y2="1450.56" stroke="#0000ff" stroke-width="3" stroke-linecap="butt"/>
<line x1="528.5" y1="1450.56" x2="541.5" y2="1450.56" stroke="#0000ff" stroke-width="3" stroke-linecap="butt"/>
<line x1="663.5" y1="1412.44" x2="663.5" y2="1424.8" stroke="#0000ff" stroke-width="3" stroke-linecap="butt"/>
<line x1="657" y1="1412.44" x2="670" y2="1412.44" stroke="#0000ff" stroke-width="3" stroke-linecap="butt"/>
<line x1="663.5" y1="1424.8" x2="663.5" y2="1437.16" stroke="#0000ff" stroke-width="3" stroke-linecap="butt"/>
<line x1="657" y1="1437.16" x2="670" y2="1437.16" stroke="#0000ff" stroke-width="3" stroke-linecap="butt"/>
<polyline points="181.62,1564.57 213.75,1508.6 278,1500.35 535,1424.8 663.5,1424.8" fill="none" stroke="#0000ff" stroke-width="3" stroke-linejoin="round"/>
<circle cx="181.62" cy="1564.57" r="7" fill="#0000ff"/>
<circle cx="213.75" cy="1508.6" r="7" fill="#0000ff"/>
<circle cx="278" cy="1500.35" r="7" fill="#0000ff"/>
<circle cx="535" cy="1424.8" r="7" fill="#0000ff"/>
<circle cx="663.5" cy="1424.8" r="7" fill="#0000ff"/>
<text transform="translate(526.72,1372.15) scale(1.0431,1)" font-family='"DejaVu Sans", sans-serif' font-weight="bold" font-size="21.23">∗</text>
<text transform="translate(655.12,1390.95) scale(1.0431,1)" font-family='"DejaVu Sans", sans-serif' font-weight="bold" font-size="21.23">∗</text>
<line x1="951.5" y1="1344.4" x2="951.5" y2="1691.9" stroke="#000" stroke-width="4" stroke-linecap="butt"/>
<line x1="935.5" y1="1690.9" x2="1471" y2="1690.9" stroke="#000" stroke-width="4" stroke-linecap="butt"/>
<line x1="936" y1="1690.9" x2="952.5" y2="1690.9" stroke="#000" stroke-width="4" stroke-linecap="butt"/>
<line x1="936" y1="1604.53" x2="952.5" y2="1604.53" stroke="#000" stroke-width="4" stroke-linecap="butt"/>
<line x1="936" y1="1518.15" x2="952.5" y2="1518.15" stroke="#000" stroke-width="4" stroke-linecap="butt"/>
<line x1="936" y1="1431.78" x2="952.5" y2="1431.78" stroke="#000" stroke-width="4" stroke-linecap="butt"/>
<line x1="936" y1="1345.4" x2="952.5" y2="1345.4" stroke="#000" stroke-width="4" stroke-linecap="butt"/>
<line x1="951.5" y1="1690.9" x2="951.5" y2="1704.3" stroke="#000" stroke-width="4" stroke-linecap="butt"/>
<line x1="1081" y1="1690.9" x2="1081" y2="1704.3" stroke="#000" stroke-width="4" stroke-linecap="butt"/>
<line x1="1210.5" y1="1690.9" x2="1210.5" y2="1704.3" stroke="#000" stroke-width="4" stroke-linecap="butt"/>
<line x1="1340" y1="1690.9" x2="1340" y2="1704.3" stroke="#000" stroke-width="4" stroke-linecap="butt"/>
<line x1="1469.5" y1="1690.9" x2="1469.5" y2="1704.3" stroke="#000" stroke-width="4" stroke-linecap="butt"/>
<text transform="translate(897.72,1699.15) scale(1.0000,1)" font-family='"Liberation Sans", sans-serif' font-weight="bold" font-size="23.63">0.0</text>
<text transform="translate(897.41,1612.78) scale(1.0000,1)" font-family='"Liberation Sans", sans-serif' font-weight="bold" font-size="23.63">0.5</text>
<text transform="translate(897.72,1526.4) scale(1.0000,1)" font-family='"Liberation Sans", sans-serif' font-weight="bold" font-size="23.63">1.0</text>
<text transform="translate(897.41,1439.9) scale(1.0000,1)" font-family='"Liberation Sans", sans-serif' font-weight="bold" font-size="23.63">1.5</text>
<text transform="translate(897.72,1353.65) scale(1.0000,1)" font-family='"Liberation Sans", sans-serif' font-weight="bold" font-size="23.63">2.0</text>
<text transform="translate(944.71,1732.9) scale(1.0000,1)" font-family='"Liberation Sans", sans-serif' font-weight="bold" font-size="24.49" fill="#000">0</text>
<text transform="translate(1074.26,1732.9) scale(1.0000,1)" font-family='"Liberation Sans", sans-serif' font-weight="bold" font-size="24.49" fill="#000">2</text>
<text transform="translate(1203.57,1732.65) scale(1.0000,1)" font-family='"Liberation Sans", sans-serif' font-weight="bold" font-size="24.49" fill="#000">4</text>
<text transform="translate(1333.18,1732.9) scale(1.0000,1)" font-family='"Liberation Sans", sans-serif' font-weight="bold" font-size="24.49" fill="#000">6</text>
<text transform="translate(1462.68,1732.9) scale(1.0000,1)" font-family='"Liberation Sans", sans-serif' font-weight="bold" font-size="24.49" fill="#000">8</text>
<text transform="translate(1145.4,1299.8) scale(0.9263,1.0000)" font-family='"Liberation Sans", sans-serif' font-weight="bold" font-size="35.47" fill="#000">NK cells</text>
<text transform="translate(1066.87,1769.7) scale(0.9313,1.0000)" font-family='"Liberation Sans", sans-serif' font-weight="bold" font-size="30.52" fill="#000">Weeks post-infection</text>
<text transform="translate(873.2,1601.49) rotate(-90) scale(0.8566,1)" font-family='"Liberation Sans", sans-serif' font-weight="bold" font-size="32.43">% of singlets</text>
<line x1="983.88" y1="1354.56" x2="983.88" y2="1398.43" stroke="#ee1c1c" stroke-width="3" stroke-linecap="butt"/>
<line x1="977.38" y1="1354.56" x2="990.38" y2="1354.56" stroke="#ee1c1c" stroke-width="3" stroke-linecap="butt"/>
<line x1="983.88" y1="1398.43" x2="983.88" y2="1442.31" stroke="#ee1c1c" stroke-width="3" stroke-linecap="butt"/>
<line x1="977.38" y1="1442.31" x2="990.38" y2="1442.31" stroke="#ee1c1c" stroke-width="3" stroke-linecap="butt"/>
<line x1="1016.25" y1="1620.76" x2="1016.25" y2="1640.11" stroke="#ee1c1c" stroke-width="3" stroke-linecap="butt"/>
<line x1="1009.75" y1="1620.76" x2="1022.75" y2="1620.76" stroke="#ee1c1c" stroke-width="3" stroke-linecap="butt"/>
<line x1="1016.25" y1="1640.11" x2="1016.25" y2="1659.46" stroke="#ee1c1c" stroke-width="3" stroke-linecap="butt"/>
<line x1="1009.75" y1="1659.46" x2="1022.75" y2="1659.46" stroke="#ee1c1c" stroke-width="3" stroke-linecap="butt"/>
<line x1="1081" y1="1559.09" x2="1081" y2="1589.67" stroke="#ee1c1c" stroke-width="3" stroke-linecap="butt"/>
<line x1="1074.5" y1="1559.09" x2="1087.5" y2="1559.09" stroke="#ee1c1c" stroke-width="3" stroke-linecap="butt"/>
<line x1="1081" y1="1589.67" x2="1081" y2="1620.25" stroke="#ee1c1c" stroke-width="3" stroke-linecap="butt"/>
<line x1="1074.5" y1="1620.25" x2="1087.5" y2="1620.25" stroke="#ee1c1c" stroke-width="3" stroke-linecap="butt"/>
<line x1="1340" y1="1657.9" x2="1340" y2="1663.95" stroke="#ee1c1c" stroke-width="3" stroke-linecap="butt"/>
<line x1="1333.5" y1="1657.9" x2="1346.5" y2="1657.9" stroke="#ee1c1c" stroke-width="3" stroke-linecap="butt"/>
<line x1="1340" y1="1663.95" x2="1340" y2="1670" stroke="#ee1c1c" stroke-width="3" stroke-linecap="butt"/>
<line x1="1333.5" y1="1670" x2="1346.5" y2="1670" stroke="#ee1c1c" stroke-width="3" stroke-linecap="butt"/>
<line x1="1469.5" y1="1665.51" x2="1469.5" y2="1672.42" stroke="#ee1c1c" stroke-width="3" stroke-linecap="butt"/>
<line x1="1463" y1="1665.51" x2="1476" y2="1665.51" stroke="#ee1c1c" stroke-width="3" stroke-linecap="butt"/>
<line x1="1469.5" y1="1672.42" x2="1469.5" y2="1679.33" stroke="#ee1c1c" stroke-width="3" stroke-linecap="butt"/>
<line x1="1463" y1="1679.33" x2="1476" y2="1679.33" stroke="#ee1c1c" stroke-width="3" stroke-linecap="butt"/>
<polyline points="983.88,1398.43 1016.25,1640.11 1081,1589.67 1340,1663.95 1469.5,1672.42" fill="none" stroke="#ee1c1c" stroke-width="3" stroke-linejoin="round"/>
<circle cx="983.88" cy="1398.43" r="7.5" fill="#ff0000"/>
<circle cx="1016.25" cy="1640.11" r="7.5" fill="#ff0000"/>
<circle cx="1081" cy="1589.67" r="7.5" fill="#ff0000"/>
<circle cx="1340" cy="1663.95" r="7.5" fill="#ff0000"/>
<circle cx="1469.5" cy="1672.42" r="7.5" fill="#ff0000"/>
<line x1="983.88" y1="1381.5" x2="983.88" y2="1443.69" stroke="#0000ff" stroke-width="3" stroke-linecap="butt"/>
<line x1="977.38" y1="1381.5" x2="990.38" y2="1381.5" stroke="#0000ff" stroke-width="3" stroke-linecap="butt"/>
<line x1="983.88" y1="1443.69" x2="983.88" y2="1505.88" stroke="#0000ff" stroke-width="3" stroke-linecap="butt"/>
<line x1="977.38" y1="1505.88" x2="990.38" y2="1505.88" stroke="#0000ff" stroke-width="3" stroke-linecap="butt"/>
<line x1="1016.25" y1="1525.92" x2="1016.25" y2="1571.7" stroke="#0000ff" stroke-width="3" stroke-linecap="butt"/>
<line x1="1009.75" y1="1525.92" x2="1022.75" y2="1525.92" stroke="#0000ff" stroke-width="3" stroke-linecap="butt"/>
<line x1="1016.25" y1="1571.7" x2="1016.25" y2="1617.48" stroke="#0000ff" stroke-width="3" stroke-linecap="butt"/>
<line x1="1009.75" y1="1617.48" x2="1022.75" y2="1617.48" stroke="#0000ff" stroke-width="3" stroke-linecap="butt"/>
<line x1="1081" y1="1522.81" x2="1081" y2="1543.54" stroke="#0000ff" stroke-width="3" stroke-linecap="butt"/>
<line x1="1074.5" y1="1522.81" x2="1087.5" y2="1522.81" stroke="#0000ff" stroke-width="3" stroke-linecap="butt"/>
<line x1="1081" y1="1543.54" x2="1081" y2="1564.27" stroke="#0000ff" stroke-width="3" stroke-linecap="butt"/>
<line x1="1074.5" y1="1564.27" x2="1087.5" y2="1564.27" stroke="#0000ff" stroke-width="3" stroke-linecap="butt"/>
<line x1="1340" y1="1524.37" x2="1340" y2="1589.32" stroke="#0000ff" stroke-width="3" stroke-linecap="butt"/>
<line x1="1333.5" y1="1524.37" x2="1346.5" y2="1524.37" stroke="#0000ff" stroke-width="3" stroke-linecap="butt"/>
<line x1="1340" y1="1589.32" x2="1340" y2="1654.28" stroke="#0000ff" stroke-width="3" stroke-linecap="butt"/>
<line x1="1333.5" y1="1654.28" x2="1346.5" y2="1654.28" stroke="#0000ff" stroke-width="3" stroke-linecap="butt"/>
<line x1="1469.5" y1="1581.38" x2="1469.5" y2="1604.87" stroke="#0000ff" stroke-width="3" stroke-linecap="butt"/>
<line x1="1463" y1="1581.38" x2="1476" y2="1581.38" stroke="#0000ff" stroke-width="3" stroke-linecap="butt"/>
<line x1="1469.5" y1="1604.87" x2="1469.5" y2="1628.36" stroke="#0000ff" stroke-width="3" stroke-linecap="butt"/>
<line x1="1463" y1="1628.36" x2="1476" y2="1628.36" stroke="#0000ff" stroke-width="3" stroke-linecap="butt"/>
<polyline points="983.88,1443.69 1016.25,1571.7 1081,1543.54 1340,1589.32 1469.5,1604.87" fill="none" stroke="#0000ff" stroke-width="3" stroke-linejoin="round"/>
<circle cx="983.88" cy="1443.69" r="7.5" fill="#0000ff"/>
<circle cx="1016.25" cy="1571.7" r="7.5" fill="#0000ff"/>
<circle cx="1081" cy="1543.54" r="7.5" fill="#0000ff"/>
<circle cx="1340" cy="1589.32" r="7.5" fill="#0000ff"/>
<circle cx="1469.5" cy="1604.87" r="7.5" fill="#0000ff"/>
</svg>
</body></html>
